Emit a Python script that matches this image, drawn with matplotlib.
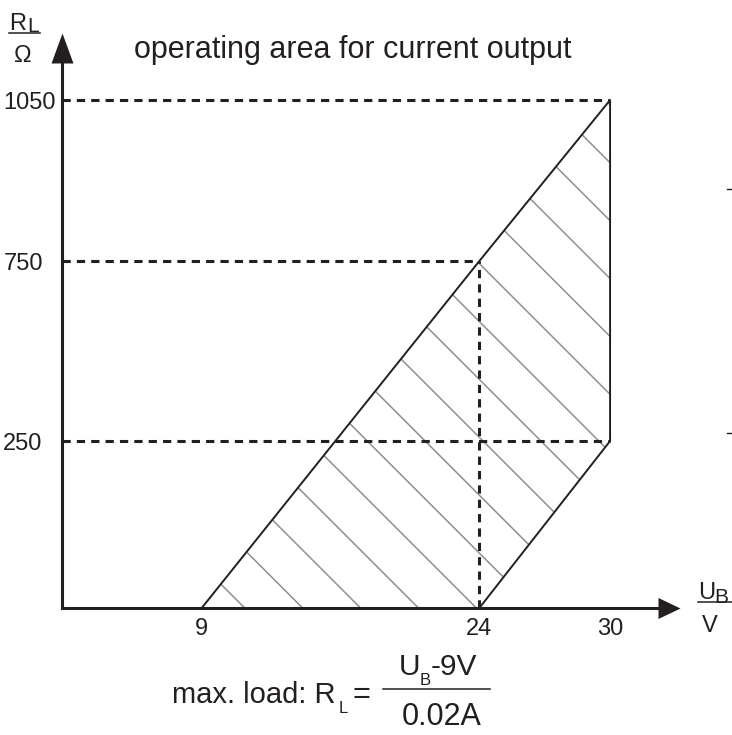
import numpy as np
import matplotlib
matplotlib.use('Agg')
import matplotlib.pyplot as plt
from matplotlib.lines import Line2D
from matplotlib.transforms import IdentityTransform

plt.rcParams['font.family'] = ['Liberation Sans', 'DejaVu Sans']

# operating area (U_B in V, R_L in Ohm)
area_u = [9, 24, 30, 30, 24]
area_r = [0, 750, 1050, 250, 0]

# dashed guide lines
guide_r = [1050, 750, 250]
guide_u_end = [30, 24, 30]
guide_v_u = 24
guide_v_r = 750

x_ticks = [9, 24, 30]
y_ticks = [250, 750, 1050]

# the drawing is not to scale -> piecewise linear axes
u_knots = [0, 9, 24, 30, 40]
u_pos = [0, 140, 417.6, 548.3, 766.1]
r_knots = [0, 250, 750, 1050, 1500]
r_pos = [0, 167, 347, 508, 749.6]

ink = '#231f20'
W, H = 732, 735


def px(x, y):
    return x / W, 1 - y / H


fig = plt.figure(figsize=(W / 100, H / 100), dpi=100)
ax = fig.add_axes([61.7 / W, 1 - 608 / H, (658 - 61.7) / W, (608 - 63) / H])

ax.set_xscale('function', functions=(lambda v: np.interp(v, u_knots, u_pos),
                                     lambda p: np.interp(p, u_pos, u_knots)))
ax.set_yscale('function', functions=(lambda v: np.interp(v, r_knots, r_pos),
                                     lambda p: np.interp(p, r_pos, r_knots)))
ax.set_xlim(0, 32.2)
ax.set_ylim(0, 1119)

for s in ['top', 'right']:
    ax.spines[s].set_visible(False)
for s in ['left', 'bottom']:
    ax.spines[s].set_linewidth(2.2)
    ax.spines[s].set_color(ink)

# dashed guides
for r, u in zip(guide_r, guide_u_end):
    ax.plot([0, u], [r, r], color=ink, lw=2.2, ls=(0, (2.7, 2)), zorder=2)
ax.plot([guide_v_u, guide_v_u], [0, guide_v_r], color=ink, lw=2.2, ls=(0, (2.7, 2)), zorder=2)

# area outline
poly = ax.fill(area_u, area_r, facecolor='none', edgecolor=ink, lw=1.4, zorder=3)[0]

# hatch (diagonal lines, clipped to the area)
x0, y0 = ax.transData.transform((area_u[0], area_r[0]))
for k in range(-2, 20):
    xb = x0 + 43 + 57.9 * k
    ln = Line2D([xb - 700, xb + 100], [y0 + 700, y0 - 100], color='#8f8f8f', lw=1.1,
                transform=IdentityTransform(), zorder=1)
    ln.set_clip_path(poly)
    ax.add_artist(ln)

# arrow heads
ax.plot(0, 1, marker=[(-11, 0), (11, 0), (0, 30)], markersize=43.2, color=ink,
        markeredgewidth=0, transform=ax.transAxes, clip_on=False)
ax.plot(1, 0, marker=[(0, -10.5), (0, 10.5), (22, 0)], markersize=31.7, color=ink,
        markeredgewidth=0, transform=ax.transAxes, clip_on=False)

ax.set_xticks(x_ticks)
ax.set_xticklabels([str(v) for v in x_ticks])
ax.set_yticks(y_ticks)
ax.set_yticklabels([str(v) for v in y_ticks], ha='left')
ax.tick_params(axis='x', length=0, pad=7.5, labelsize=17, labelcolor=ink)
ax.tick_params(axis='y', length=0, pad=42, labelsize=17, labelcolor=ink)
ax.minorticks_off()

# title
fig.text(*px(134, 58), 'operating area for current output', ha='left', va='baseline',
         fontsize=22, color=ink)

# y axis label R_L / Ohm
fig.text(*px(9, 30), 'R', ha='left', va='baseline', fontsize=17, color=ink)
fig.text(*px(27, 32), 'L', ha='left', va='baseline', fontsize=15, color=ink)
fig.add_artist(Line2D([9 / W, 40 / W], [1 - 33 / H, 1 - 33 / H], color=ink, lw=1.1))
fig.text(*px(22.5, 62), '\u03a9', ha='center', va='baseline', fontsize=17, color=ink)

# x axis label U_B / V
fig.text(*px(698, 599), 'U', ha='left', va='baseline', fontsize=17, color=ink)
fig.text(*px(714, 603), 'B', ha='left', va='baseline', fontsize=15, color=ink)
fig.add_artist(Line2D([698 / W, 1.0], [1 - 602 / H, 1 - 602 / H], color=ink, lw=1.1))
fig.text(*px(710, 632), 'V', ha='center', va='baseline', fontsize=17, color=ink)

# formula
fig.text(*px(172, 703), 'max. load: R', ha='left', va='baseline', fontsize=21, color=ink)
fig.text(*px(339, 713), 'L', ha='left', va='baseline', fontsize=12, color=ink)
fig.text(*px(352, 703), '=', ha='left', va='baseline', fontsize=22, color=ink)
fig.add_artist(Line2D([383 / W, 490 / W], [1 - 689 / H, 1 - 689 / H], color=ink, lw=1.1))
fig.text(*px(399, 675), 'U', ha='left', va='baseline', fontsize=21.5, color=ink)
fig.text(*px(420, 685), 'B', ha='left', va='baseline', fontsize=12, color=ink)
fig.text(*px(431, 675), '-9V', ha='left', va='baseline', fontsize=21.5, color=ink)
fig.text(*px(441.5, 725), '0.02A', ha='center', va='baseline', fontsize=22, color=ink)

# small marks at right border
for yy in [189, 433]:
    fig.add_artist(Line2D([727 / W, 1.0], [1 - yy / H, 1 - yy / H], color=ink, lw=1.0))

fig.savefig('out.png', dpi=100)
